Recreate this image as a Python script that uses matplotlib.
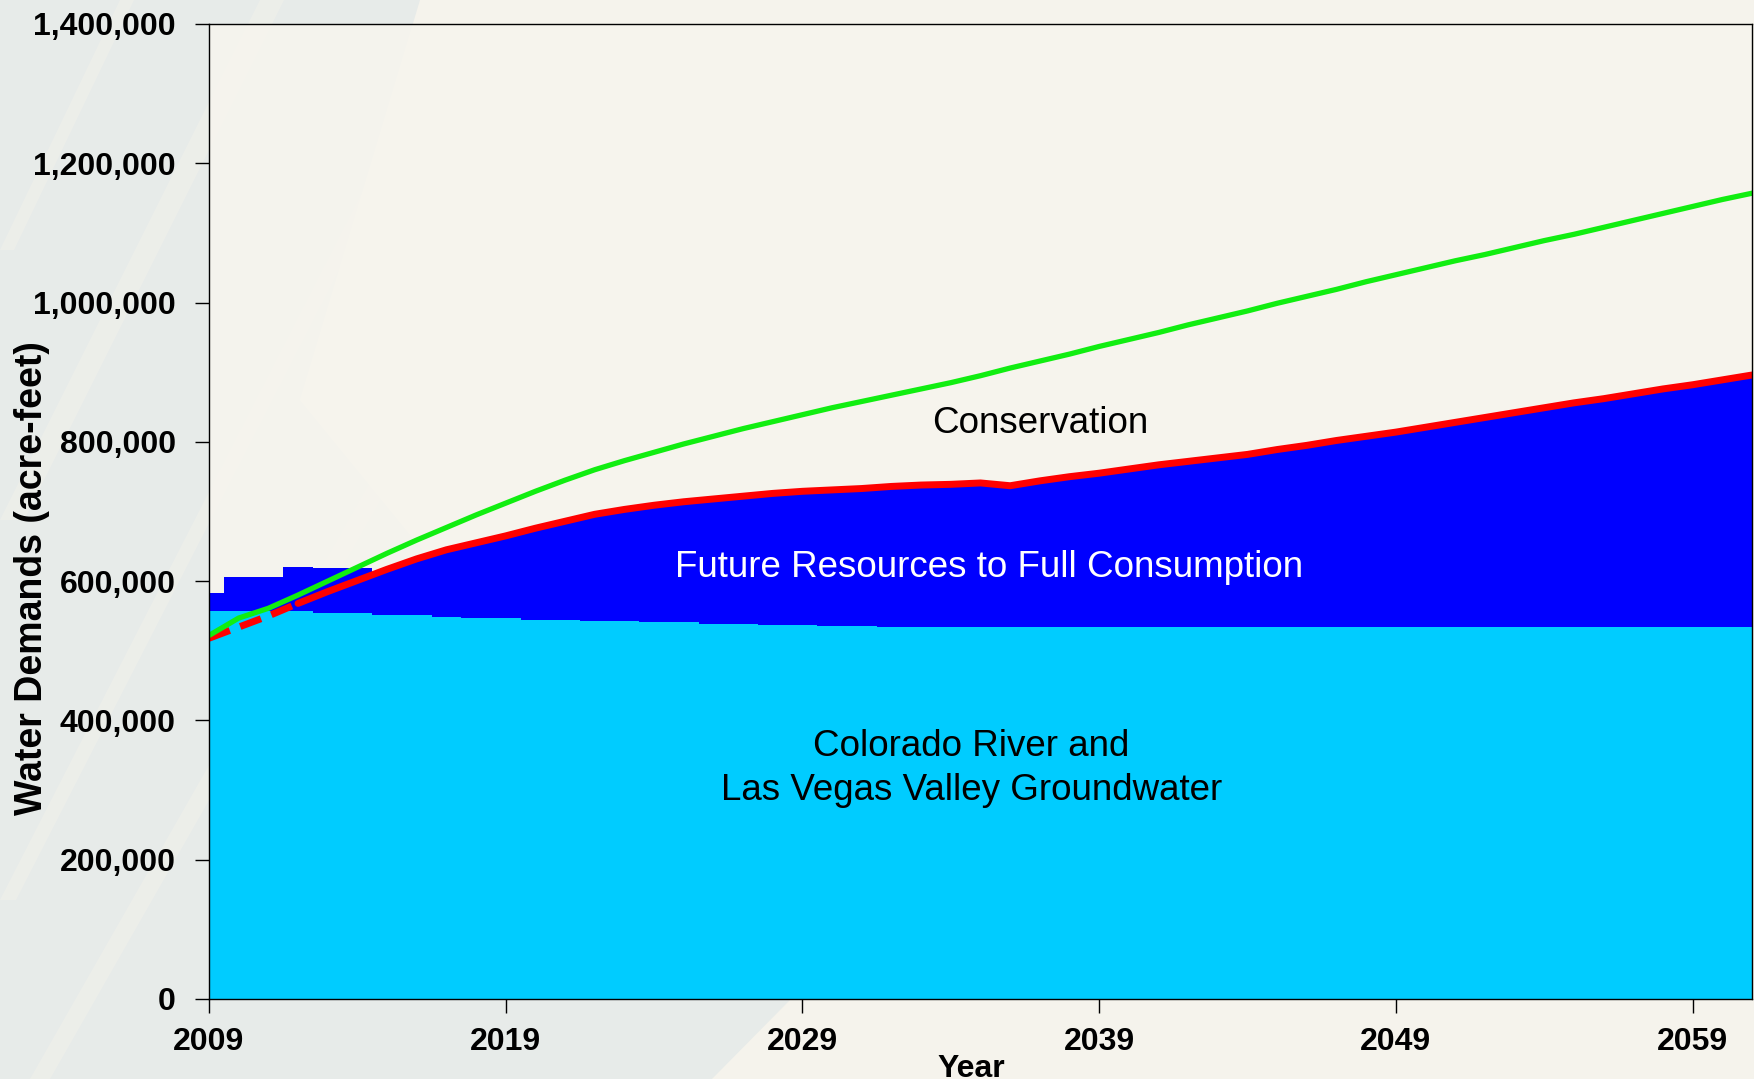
import numpy as np
import matplotlib
matplotlib.use("Agg")
import matplotlib.pyplot as plt

plt.rcParams['font.family'] = ['Liberation Sans', 'DejaVu Sans']

# ---- data (thousands of acre-feet) ----
years = np.arange(2009, 2062)

# total demand without further conservation (green)
demand = [522, 547, 561, 580, 600, 620, 640, 659, 677, 695,
          712, 729, 745, 760, 773, 785, 797, 808, 819, 829,
          839, 849, 858, 867, 876, 885, 895, 906, 916, 926,
          937, 947, 957, 968, 978, 988, 999, 1009, 1019, 1030,
          1040, 1050, 1060, 1069, 1079, 1089, 1098, 1108, 1118, 1128,
          1138, 1148, 1157]

# demand with conservation = full consumption (red)
consumption = [518, 534, 550, 568, 585, 601, 617, 632, 645, 655,
               665, 676, 686, 696, 703, 709, 714, 718, 722, 726,
               729, 731, 733, 736, 738, 739, 741, 737, 744, 750,
               755, 761, 767, 772, 777, 782, 789, 795, 802, 808,
               814, 821, 828, 835, 842, 849, 856, 862, 869, 876,
               882, 889, 896]
dash_end = 2012  # projection drawn dashed up to here

# Colorado River + Las Vegas Valley groundwater (cyan, stepped)
supply_edges = [2009, 2012.5, 2014.5, 2016.5, 2017.5, 2019.5, 2021.5,
                2023.5, 2025.5, 2027.5, 2029.5, 2031.5, 2061]
supply_vals = [556.5, 553.8, 551.4, 549.0, 546.7, 544.6, 542.8,
               540.9, 538.5, 537.0, 535.2, 533.8]

# early resource steps above the consumption line (blue)
early_edges = [2009, 2009.5, 2011.5, 2012.5, 2014.5]
early_vals = [582.6, 606.4, 620.8, 618.4]

demand = np.array(demand) * 1000
consumption = np.array(consumption) * 1000
supply_vals = np.array(supply_vals) * 1000
early_vals = np.array(early_vals) * 1000

yticks = np.arange(0, 1400001, 200000)
xticks = [2009, 2019, 2029, 2039, 2049, 2059]

# ---- figure ----
fig = plt.figure(figsize=(17.54, 10.79), dpi=100, facecolor='#f5f3ec')

# textured slide background
bg = fig.add_axes([0, 0, 1, 1], zorder=-10)
bg.set_axis_off()
bg.set_xlim(0, 1754)
bg.set_ylim(1079, 0)
bg.fill([0, 420, 300, 790, 712, 0], [0, 0, 400, 1000, 1079, 1079],
        color='#e7ebe9', lw=0)
for x0, y0, x1, y1, w in [(0, 520, 260, 0, 24), (0, 900, 420, 80, 16),
                          (30, 1079, 560, 150, 20), (0, 250, 120, 0, 14)]:
    bg.fill([x0, x0 + w, x1 + w, x1], [y0, y0, y1, y1],
            color='#f4f2ea', alpha=0.45, lw=0)

ax = fig.add_axes([209/1754, 1 - 999/1079, 1543/1754, 975/1079])
ax.set_facecolor((0.969, 0.961, 0.933, 0.85))

blue = '#0000ff'
cyan = '#00ccff'
red = '#ff0000'
green = '#11ee11'

ax.fill_between(years, 0, consumption, color=blue, lw=0, zorder=1)
ax.stairs(early_vals, early_edges, baseline=0, fill=True, color=blue, zorder=1.1)
ax.stairs(supply_vals, supply_edges, baseline=0, fill=True, color=cyan, zorder=2)

m = years <= dash_end
ax.plot(years[m], consumption[m], color=red, lw=5, dashes=(3.2, 1.6),
        solid_capstyle='round', zorder=3)
m = years >= dash_end
ax.plot(years[m], consumption[m], color=red, lw=5, solid_capstyle='round', zorder=3)
ax.plot(years, demand, color=green, lw=3.8, zorder=4)

ax.text(2037.0, 827000, 'Conservation', fontsize=26.5, ha='center', va='center', zorder=5)
ax.text(2035.3, 620000, 'Future Resources to Full Consumption', fontsize=26.5,
        color='white', ha='center', va='center', zorder=5)
ax.text(2034.7, 331000, 'Colorado River and\nLas Vegas Valley Groundwater',
        fontsize=26.5, ha='center', va='center', linespacing=1.3, zorder=5)

ax.set_xlim(2009, 2061)
ax.set_ylim(0, 1400000)
ax.set_yticks(yticks, ['{:,.0f}'.format(v) for v in yticks],
              fontsize=23, fontweight='bold')
ax.set_xticks(xticks, [str(v) for v in xticks], fontsize=23, fontweight='bold')
ax.tick_params(axis='y', direction='out', length=10, width=1, pad=14)
ax.tick_params(axis='x', direction='out', length=10, width=1, pad=10)
for s in ax.spines.values():
    s.set_linewidth(1)
    s.set_zorder(6)

ax.set_ylabel('Water Demands (acre-feet)', fontsize=27, fontweight='bold')
ax.yaxis.label.set_va('center')
ax.yaxis.set_label_coords(-0.1147, 0.432)
ax.set_xlabel('Year', fontsize=23, fontweight='bold')
ax.xaxis.label.set_va('baseline')
ax.xaxis.set_label_coords(0.494, -0.080)

fig.savefig('out.png', dpi=100, facecolor=fig.get_facecolor())
